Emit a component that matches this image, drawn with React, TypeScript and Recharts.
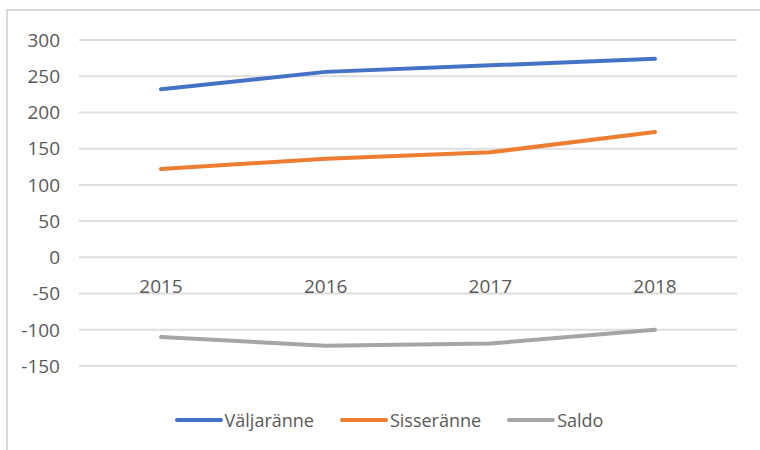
import React from "react";
import {
  LineChart,
  Line,
  XAxis,
  YAxis,
  CartesianGrid,
  Legend,
} from "recharts";

const YEARS = ["2015", "2016", "2017", "2018"];
const VALJARANNE = [232, 256, 265, 274];
const SISSERANNE = [122, 136, 145, 173];
const SALDO = [-110, -122, -119, -100];
const Y_TICKS = [-150, -100, -50, 0, 50, 100, 150, 200, 250, 300];

const SERIES = [
  { key: "valjaranne", name: "Väljaränne", color: "#4472C4" },
  { key: "sisseranne", name: "Sisseränne", color: "#ED7D31" },
  { key: "saldo", name: "Saldo", color: "#A5A5A5" },
];

const data = YEARS.map((year, i) => ({
  year,
  valjaranne: VALJARANNE[i],
  sisseranne: SISSERANNE[i],
  saldo: SALDO[i],
}));

const WIDTH = 760;
const HEIGHT = 450;
const TOP = 40;
const X_AXIS_H = 84;
const Y_MIN = Y_TICKS[0];
const Y_MAX = Y_TICKS[Y_TICKS.length - 1];
const PLOT_H = HEIGHT - TOP - X_AXIS_H;
// the category labels sit just under the zero line, like Excel does it
const ZERO_Y = TOP + (PLOT_H * Y_MAX) / (Y_MAX - Y_MIN);
const TEXT = "#595959";
const FONT = "'Open Sans', sans-serif";

function YearTick(props: any) {
  const { x, payload } = props;
  return (
    <text
      x={x}
      y={ZERO_Y + 29}
      dy="0.355em"
      textAnchor="middle"
      fill={TEXT}
      fontSize={19}
    >
      {payload.value}
    </text>
  );
}

function LegendContent() {
  return (
    <div
      style={{
        display: "flex",
        justifyContent: "center",
        alignItems: "center",
        gap: 26,
        fontSize: 18,
        color: TEXT,
      }}
    >
      {SERIES.map((s) => (
        <div key={s.key} style={{ display: "flex", alignItems: "center" }}>
          <span
            style={{
              display: "inline-block",
              width: 48,
              height: 4,
              borderRadius: 2,
              background: s.color,
              marginRight: 2,
            }}
          />
          <span>{s.name}</span>
        </div>
      ))}
    </div>
  );
}

export default function App() {
  return (
    <div
      style={{
        position: "absolute",
        left: 0,
        top: 0,
        width: WIDTH,
        height: HEIGHT,
        overflow: "hidden",
        background: "#fff",
        fontFamily: FONT,
      }}
    >
      <div
        style={{
          position: "absolute",
          left: 6,
          top: 9,
          width: 820,
          height: 520,
          border: "2px solid #d9d9d9",
        }}
      />
      <div style={{ position: "absolute", left: 0, top: 0 }}>
        <LineChart
          width={WIDTH}
          height={HEIGHT}
          data={data}
          margin={{ top: TOP, right: 23, left: 0, bottom: 0 }}
        >
          <CartesianGrid vertical={false} stroke="#dedede" strokeWidth={2} />
          <XAxis
            dataKey="year"
            height={X_AXIS_H}
            axisLine={false}
            tickLine={false}
            tick={<YearTick />}
            interval={0}
            padding={{ left: 82, right: 82 }}
          />
          <YAxis
            width={79}
            domain={[Y_MIN, Y_MAX]}
            ticks={Y_TICKS}
            axisLine={false}
            tickLine={false}
            tickSize={0}
            tickMargin={19}
            tick={{ fill: TEXT, fontSize: 19 }}
          />
          <Legend
            verticalAlign="middle"
            align="center"
            content={<LegendContent />}
            wrapperStyle={{ top: 408, left: 18, width: 742, height: 26 }}
          />
          {SERIES.map((s) => (
            <Line
              key={s.key}
              type="linear"
              dataKey={s.key}
              name={s.name}
              stroke={s.color}
              strokeWidth={4}
              strokeLinecap="round"
              dot={false}
              activeDot={false}
              isAnimationActive={false}
            />
          ))}
        </LineChart>
      </div>
    </div>
  );
}
